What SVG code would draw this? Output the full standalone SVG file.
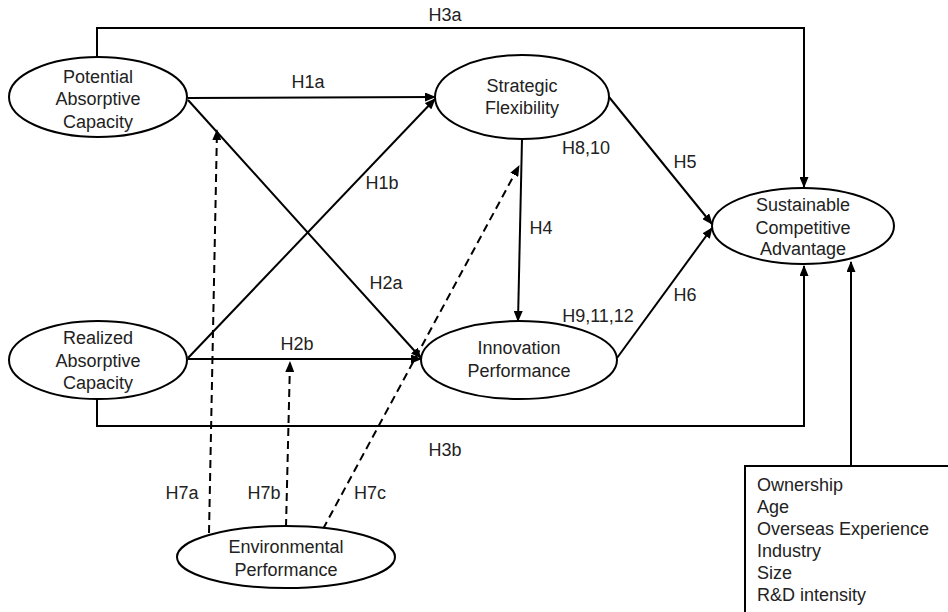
<svg xmlns="http://www.w3.org/2000/svg" width="948" height="612" viewBox="0 0 948 612">
<style>
text{font-family:"Liberation Sans",Arial,sans-serif;font-size:18px;fill:#222}
.c{text-anchor:middle}
.n{fill:#fff;stroke:#000;stroke-width:2}
.l{fill:none;stroke:#000;stroke-width:2}
.d{fill:none;stroke:#000;stroke-width:2;stroke-dasharray:8 5}
</style>
<defs>
<marker id="a" markerUnits="userSpaceOnUse" markerWidth="11" markerHeight="9" refX="10" refY="4.5" orient="auto">
<path d="M0,0 L11,4.5 L0,9 z" fill="#000"/>
</marker>
</defs>
<rect width="948" height="612" fill="#fff"/>
<g id="connectors">
<polyline class="l" points="97,57 97,28 804,28 804,187" marker-end="url(#a)"/>
<polyline class="l" points="97,399 97,426 804,426 804,266" marker-end="url(#a)"/>
<line class="l" x1="188" y1="98" x2="435" y2="97" marker-end="url(#a)"/>
<line class="l" x1="188" y1="358" x2="435" y2="99" marker-end="url(#a)"/>
<line class="l" x1="188" y1="100" x2="421" y2="358" marker-end="url(#a)"/>
<line class="l" x1="188" y1="359" x2="421" y2="359" marker-end="url(#a)"/>
<line class="l" x1="522" y1="139" x2="518" y2="321" marker-end="url(#a)"/>
<line class="l" x1="609" y1="97" x2="712" y2="224" marker-end="url(#a)"/>
<line class="l" x1="617" y1="358" x2="712" y2="228" marker-end="url(#a)"/>
<line class="l" x1="851" y1="466" x2="851" y2="262" marker-end="url(#a)"/>
<line class="d" x1="209" y1="533" x2="217" y2="130" marker-end="url(#a)"/>
<line class="d" x1="286" y1="527" x2="290" y2="362" marker-end="url(#a)"/>
<line class="d" x1="323" y1="529" x2="519" y2="166" marker-end="url(#a)"/>
</g>
<g id="labels">
<text class="c" x="445" y="21">H3a</text>
<text class="c" x="308" y="88">H1a</text>
<text class="c" x="382" y="189">H1b</text>
<text class="c" x="586" y="154">H8,10</text>
<text class="c" x="685" y="168">H5</text>
<text class="c" x="541" y="234">H4</text>
<text class="c" x="386" y="289">H2a</text>
<text class="c" x="685" y="301">H6</text>
<text class="c" x="598" y="322">H9,11,12</text>
<text class="c" x="297" y="350">H2b</text>
<text class="c" x="445" y="456">H3b</text>
<text class="c" x="182" y="499">H7a</text>
<text class="c" x="264" y="499">H7b</text>
<text class="c" x="370" y="499">H7c</text>
</g>
<g id="pac">
<ellipse class="n" cx="98" cy="97" rx="89" ry="40"/>
<text class="c" x="98" y="83">Potential</text>
<text class="c" x="98" y="105">Absorptive</text>
<text class="c" x="98" y="128">Capacity</text>
</g>
<g id="rac">
<ellipse class="n" cx="98" cy="360" rx="89" ry="39"/>
<text class="c" x="98" y="344">Realized</text>
<text class="c" x="98" y="367">Absorptive</text>
<text class="c" x="98" y="389">Capacity</text>
</g>
<g id="sf">
<ellipse class="n" cx="522" cy="97" rx="87" ry="42"/>
<text class="c" x="522" y="92">Strategic</text>
<text class="c" x="522" y="114">Flexibility</text>
</g>
<g id="ip">
<ellipse class="n" cx="519" cy="360" rx="98" ry="39"/>
<text class="c" x="519" y="354">Innovation</text>
<text class="c" x="519" y="377">Performance</text>
</g>
<g id="sca">
<ellipse class="n" cx="803" cy="226" rx="91" ry="38"/>
<text class="c" x="803" y="211">Sustainable</text>
<text class="c" x="803" y="234">Competitive</text>
<text class="c" x="803" y="255">Advantage</text>
</g>
<g id="ep">
<ellipse class="n" cx="286" cy="557" rx="109" ry="31"/>
<text class="c" x="286" y="553">Environmental</text>
<text class="c" x="286" y="576">Performance</text>
</g>
<g id="controls">
<rect class="n" x="745" y="466" width="210" height="160"/>
<text x="757" y="491">Ownership</text>
<text x="757" y="513">Age</text>
<text x="757" y="535">Overseas Experience</text>
<text x="757" y="557">Industry</text>
<text x="757" y="579">Size</text>
<text x="757" y="601">R&amp;D intensity</text>
</g>
</svg>
